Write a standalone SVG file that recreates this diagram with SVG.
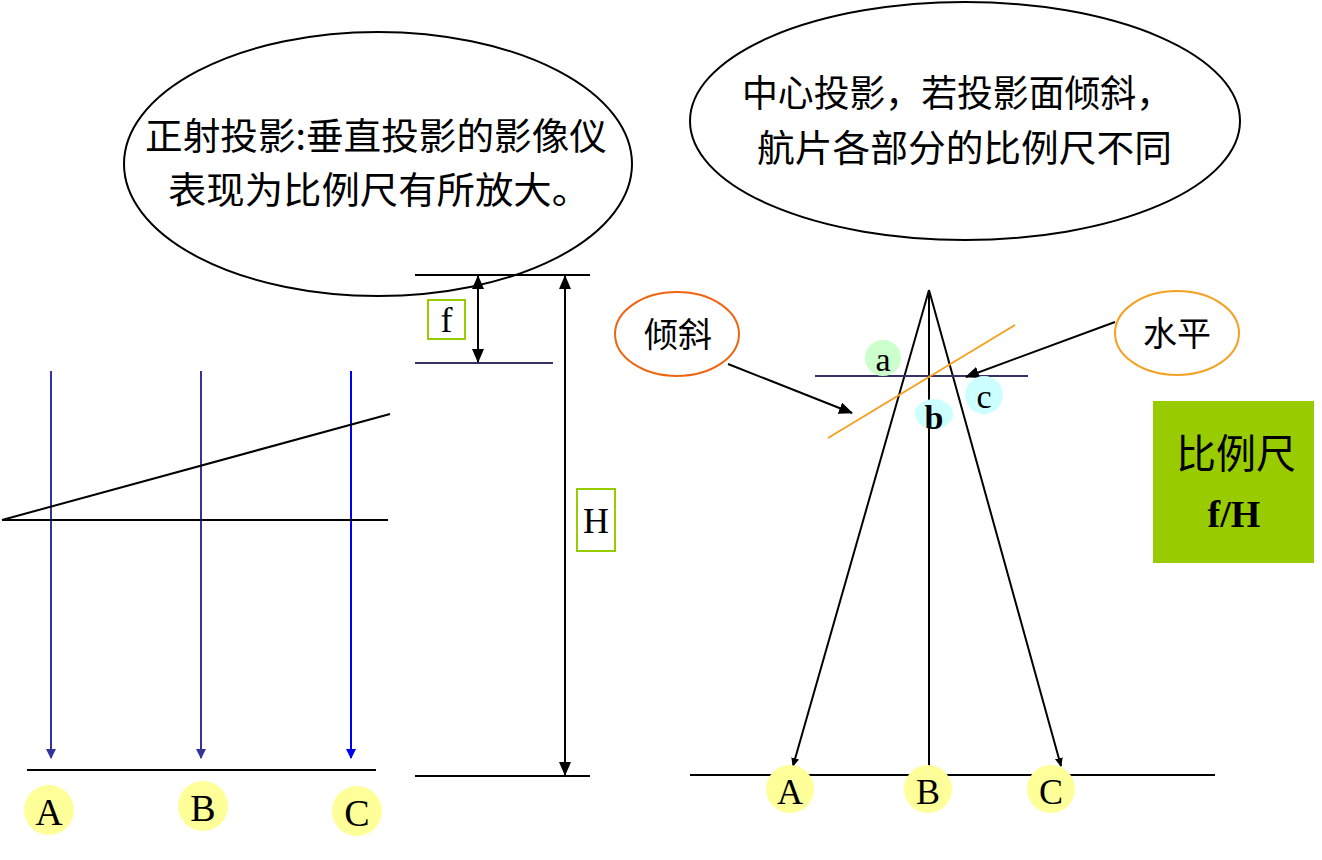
<svg xmlns="http://www.w3.org/2000/svg" width="1322" height="860" viewBox="0 0 1322 860">
<style>
.cjk{font-family:"Noto Sans CJK SC","Noto Sans CJK JP",sans-serif;fill:#000}
.tm{font-family:"Liberation Serif",serif;fill:#000}
.ln{stroke:#000;stroke-width:2;fill:none}
.nv{stroke:#333366;stroke-width:2;fill:none}
.bl{stroke:#333399;stroke-width:2;fill:none}
.yc{fill:#ffff99}
</style>
<defs>
<marker id="ab" markerWidth="10" markerHeight="10" refX="9" refY="5" orient="auto" markerUnits="userSpaceOnUse"><path d="M0,0 L10,5 L0,10 Z" fill="#333399"/></marker>
<marker id="ab2" markerWidth="10" markerHeight="10" refX="9" refY="5" orient="auto" markerUnits="userSpaceOnUse"><path d="M0,0 L10,5 L0,10 Z" fill="#0000ee"/></marker>
<marker id="ak" markerWidth="14" markerHeight="12" refX="13" refY="6" orient="auto" markerUnits="userSpaceOnUse"><path d="M0,0 L14,6 L0,12 Z" fill="#000"/></marker>
<marker id="ak2" markerWidth="14" markerHeight="12" refX="1" refY="6" orient="auto" markerUnits="userSpaceOnUse"><path d="M14,0 L0,6 L14,12 Z" fill="#000"/></marker>
<marker id="aks" markerWidth="9" markerHeight="8" refX="8" refY="4" orient="auto" markerUnits="userSpaceOnUse"><path d="M0,0 L9,4 L0,8 Z" fill="#000"/></marker>
</defs>

<g id="connectors">
<line class="bl" x1="51" y1="371" x2="51" y2="758" marker-end="url(#ab)"/>
<line class="bl" x1="201" y1="371" x2="201" y2="758" marker-end="url(#ab)"/>
<line x1="351" y1="371" x2="351" y2="758" stroke="#0000ee" stroke-width="2" marker-end="url(#ab2)"/>
<line class="ln" x1="27" y1="770" x2="376" y2="770"/>
<line class="ln" x1="2" y1="520" x2="388" y2="520"/>
<line class="ln" x1="2" y1="520" x2="390" y2="414"/>
<line class="ln" x1="415" y1="275" x2="590" y2="275"/>
<line class="nv" x1="415" y1="363" x2="553" y2="363"/>
<line class="ln" x1="415" y1="776" x2="590" y2="776"/>
<line class="ln" x1="478" y1="276" x2="478" y2="362" marker-start="url(#ak2)" marker-end="url(#ak)"/>
<line class="ln" x1="565" y1="276" x2="565" y2="775" marker-start="url(#ak2)" marker-end="url(#ak)"/>
<line class="ln" x1="690" y1="775" x2="1215" y2="775"/>
<line class="ln" x1="929" y1="290" x2="793" y2="766" marker-end="url(#aks)"/>
<line class="ln" x1="929" y1="290" x2="929" y2="766"/>
<line class="ln" x1="929" y1="290" x2="1061" y2="766" marker-end="url(#aks)"/>
<line class="nv" x1="815" y1="376" x2="1028" y2="376"/>
<line x1="828" y1="438" x2="1015" y2="325" stroke="#f5a020" stroke-width="2"/>
<line class="ln" x1="728" y1="364" x2="852" y2="413" marker-end="url(#ak)"/>
<line class="ln" x1="1115" y1="322" x2="966" y2="377" marker-end="url(#ak)"/>
</g>

<g id="ellipse-left">
<ellipse cx="378" cy="164" rx="254" ry="132" fill="none" stroke="#000" stroke-width="2"/>
<text class="cjk" x="145" y="150" font-size="37" textLength="462" lengthAdjust="spacingAndGlyphs">正射投影:垂直投影的影像仪</text>
<text class="cjk" x="168" y="204" font-size="37" textLength="422" lengthAdjust="spacingAndGlyphs">表现为比例尺有所放大。</text>
</g>

<g id="ellipse-right">
<ellipse cx="965" cy="121" rx="275" ry="119" fill="none" stroke="#000" stroke-width="2"/>
<text class="cjk" x="742" y="107" font-size="37" textLength="430" lengthAdjust="spacingAndGlyphs">中心投影，若投影面倾斜，</text>
<text class="cjk" x="757" y="162" font-size="37" textLength="415" lengthAdjust="spacingAndGlyphs">航片各部分的比例尺不同</text>
</g>

<g id="label-f">
<rect x="428" y="300" width="37" height="39" fill="none" stroke="#99cc00" stroke-width="2"/>
<text class="tm" x="446.5" y="332" font-size="36" text-anchor="middle">f</text>
</g>
<g id="label-H">
<rect x="577" y="489" width="38" height="62" fill="none" stroke="#99cc00" stroke-width="2"/>
<text class="tm" x="596" y="533" font-size="36" text-anchor="middle">H</text>
</g>

<g id="left-A"><circle class="yc" cx="49" cy="810" r="25"/><text class="tm" x="49" y="825" font-size="38" text-anchor="middle">A</text></g>
<g id="left-B"><circle class="yc" cx="203" cy="806" r="25"/><text class="tm" x="203" y="821" font-size="38" text-anchor="middle">B</text></g>
<g id="left-C"><circle class="yc" cx="357" cy="811" r="25"/><text class="tm" x="357" y="826" font-size="38" text-anchor="middle">C</text></g>

<g id="right-A"><circle class="yc" cx="790" cy="789" r="24"/><text class="tm" x="790" y="804" font-size="36" text-anchor="middle">A</text></g>
<g id="right-B"><circle class="yc" cx="928" cy="789" r="24"/><text class="tm" x="928" y="804" font-size="36" text-anchor="middle">B</text></g>
<g id="right-C"><circle class="yc" cx="1051" cy="789" r="24"/><text class="tm" x="1051" y="804" font-size="36" text-anchor="middle">C</text></g>

<g id="pt-a"><circle cx="883" cy="358" r="18" fill="#ccffcc"/><text class="tm" x="883" y="371" font-size="34" text-anchor="middle">a</text></g>
<g id="pt-b"><ellipse cx="934" cy="414" rx="19" ry="15" fill="#ccffff"/><text class="tm" x="934" y="429" font-size="34" font-weight="bold" text-anchor="middle">b</text></g>
<g id="pt-c"><circle cx="984" cy="395" r="19" fill="#ccffff"/><text class="tm" x="984" y="408" font-size="34" text-anchor="middle">c</text></g>

<g id="tilt">
<ellipse cx="677" cy="334" rx="62" ry="42" fill="#fff" stroke="#ee6611" stroke-width="2"/>
<text class="cjk" x="678" y="347" font-size="34" text-anchor="middle">倾斜</text>
</g>
<g id="level">
<ellipse cx="1177" cy="333" rx="62" ry="42" fill="#fff" stroke="#f5a020" stroke-width="2"/>
<text class="cjk" x="1177" y="346" font-size="34" text-anchor="middle">水平</text>
</g>

<g id="scale-box">
<rect x="1153" y="401" width="161" height="162" fill="#99cc00"/>
<text class="cjk" x="1236" y="468" font-size="40" text-anchor="middle">比例尺</text>
<text class="tm" x="1234" y="527" font-size="38" font-weight="bold" text-anchor="middle">f/H</text>
</g>
</svg>
